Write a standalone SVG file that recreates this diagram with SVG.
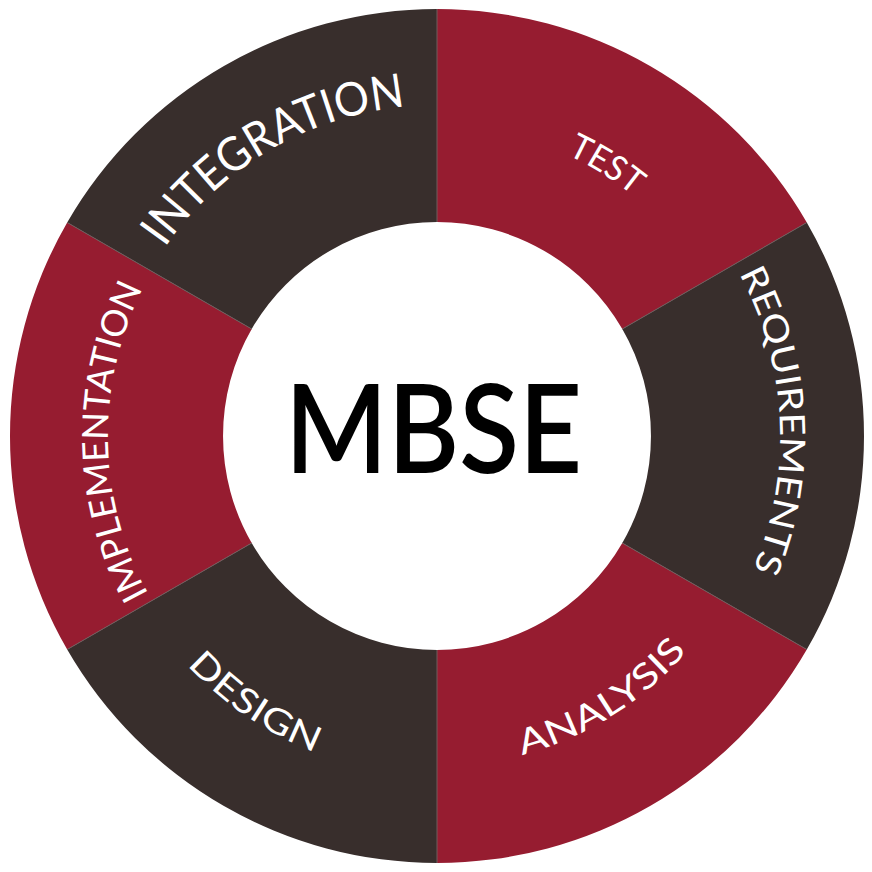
<svg xmlns="http://www.w3.org/2000/svg" width="872" height="872" viewBox="0 0 872 872">
  <style>
    .red { fill: #961c30; }
    .dark { fill: #382e2c; }
    .sep { stroke: #6e5c5c; stroke-width: 1; fill: none; }
    .lbl { fill: #ffffff; font-family: "Lato", "Liberation Sans", sans-serif; font-weight: 400; }
    .core { fill: #000000; font-family: "Lato", "Liberation Sans", sans-serif; font-weight: 600; }
  </style>
  <defs>
    <path id="pTest" d="M393.85,129.0 A310,310 0 0 1 731.8,340.2"/>
    <path id="pReq" d="M689.1,203.4 A343,343 0 0 1 709.9,643.9"/>
    <path id="pAna" d="M391.6,762.9 A330,330 0 0 0 751.0,537.4"/>
    <path id="pDes" d="M110.6,527.7 A339,339 0 0 0 470.7,773.3"/>
    <path id="pImp" d="M188.7,651.9 A329,329 0 0 1 181.3,229.0"/>
    <path id="pInt" d="M125.2,325.0 A331,331 0 0 1 492.2,109.6"/>
  </defs>
  <rect width="872" height="872" fill="#ffffff"/>

  <g id="test">
    <path class="red" d="M437,9 A427,427 0 0 1 806.8,222.5 L622.3,329 A214,214 0 0 0 437,222 Z"/>
    <text class="lbl" font-size="35" text-anchor="middle"><textPath href="#pTest" startOffset="50%" textLength="78" lengthAdjust="spacingAndGlyphs">TEST</textPath></text>
  </g>
  <g id="requirements">
    <path class="dark" d="M806.8,222.5 A427,427 0 0 1 806.8,649.5 L622.3,543 A214,214 0 0 0 622.3,329 Z"/>
    <text class="lbl" font-size="35" text-anchor="middle"><textPath href="#pReq" startOffset="50%" textLength="306" lengthAdjust="spacingAndGlyphs">REQUIREMENTS</textPath></text>
  </g>
  <g id="analysis">
    <path class="red" d="M806.8,649.5 A427,427 0 0 1 437,863 L437,650 A214,214 0 0 0 622.3,543 Z"/>
    <text class="lbl" font-size="35" text-anchor="middle"><textPath href="#pAna" startOffset="50%" textLength="198" lengthAdjust="spacingAndGlyphs">ANALYSIS</textPath></text>
  </g>
  <g id="design">
    <path class="dark" d="M437,863 A427,427 0 0 1 67.2,649.5 L251.7,543 A214,214 0 0 0 437,650 Z"/>
    <text class="lbl" font-size="35" text-anchor="middle"><textPath href="#pDes" startOffset="50%" textLength="156" lengthAdjust="spacingAndGlyphs">DESIGN</textPath></text>
  </g>
  <g id="implementation">
    <path class="red" d="M67.2,649.5 A427,427 0 0 1 67.2,222.5 L251.7,329 A214,214 0 0 0 251.7,543 Z"/>
    <text class="lbl" font-size="36" text-anchor="middle"><textPath href="#pImp" startOffset="50%" textLength="318" lengthAdjust="spacingAndGlyphs">IMPLEMENTATION</textPath></text>
  </g>
  <g id="integration">
    <path class="dark" d="M67.2,222.5 A427,427 0 0 1 437,9 L437,222 A214,214 0 0 0 251.7,329 Z"/>
    <text class="lbl" font-size="47" text-anchor="middle"><textPath href="#pInt" startOffset="50%" textLength="288" lengthAdjust="spacingAndGlyphs">INTEGRATION</textPath></text>
  </g>

  <g id="separators">
    <line class="sep" x1="437" y1="9" x2="437" y2="222"/>
    <line class="sep" x1="806.8" y1="222.5" x2="622.3" y2="329"/>
    <line class="sep" x1="806.8" y1="649.5" x2="622.3" y2="543"/>
    <line class="sep" x1="437" y1="863" x2="437" y2="650"/>
    <line class="sep" x1="67.2" y1="649.5" x2="251.7" y2="543"/>
    <line class="sep" x1="67.2" y1="222.5" x2="251.7" y2="329"/>
  </g>

  <g id="mbse">
    <text class="core" x="433.5" y="473" font-size="123" text-anchor="middle" textLength="297" lengthAdjust="spacingAndGlyphs">MBSE</text>
  </g>
</svg>
